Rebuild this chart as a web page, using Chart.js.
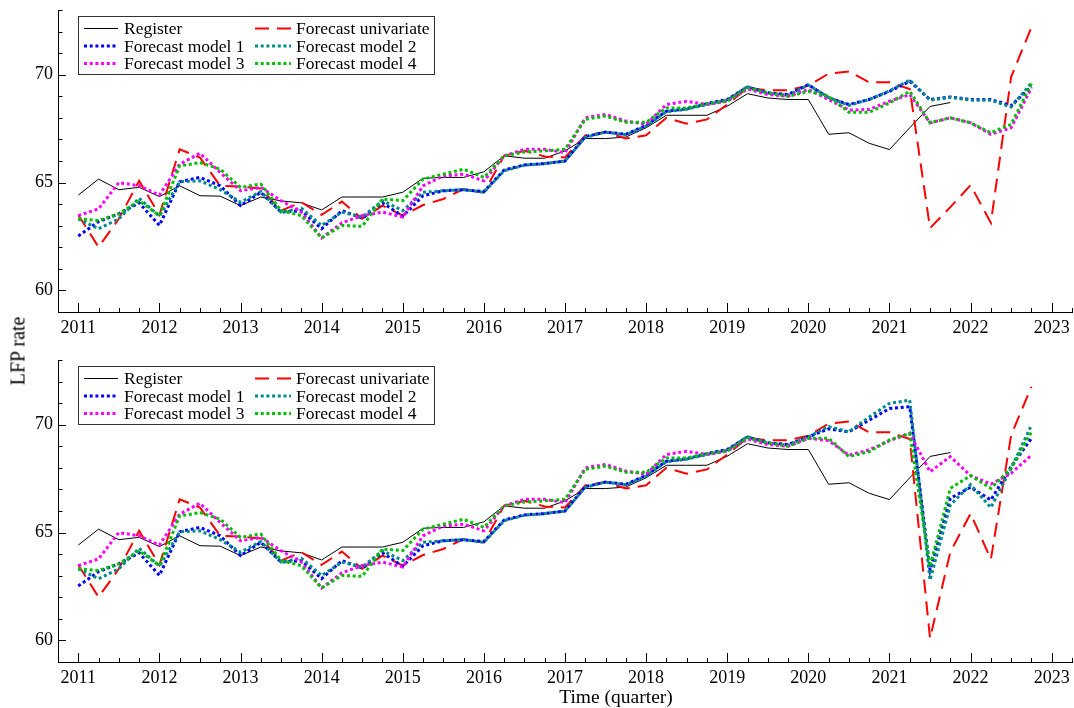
<!DOCTYPE html>
<html><head><meta charset="utf-8">
<script src="https://cdn.jsdelivr.net/npm/chart.js@4.4.1/dist/chart.umd.min.js"></script>
<style>
html,body{margin:0;padding:0;background:#fff;}
#wrap{position:relative;width:1074px;height:708px;overflow:hidden;background:#fff;}
canvas{position:absolute;left:0;}
#c1{top:0}
#c2{top:348px}
#ylab{position:absolute;left:18px;top:351px;transform:translate(-50%,-50%) rotate(-90deg);font:20px "Liberation Serif",serif;white-space:nowrap;color:#000;}
#xlab{position:absolute;left:616px;top:697px;transform:translate(-50%,-50%);font:19.5px "Liberation Serif",serif;white-space:nowrap;color:#000;}
</style></head><body>
<div id="wrap">
<canvas id="c1" width="1074" height="340"></canvas>
<canvas id="c2" width="1074" height="360"></canvas>
<div id="ylab">LFP rate</div>
<div id="xlab">Time (quarter)</div>
</div>
<script>
const quarters = [2011,2011.25,2011.5,2011.75,2012,2012.25,2012.5,2012.75,2013,2013.25,2013.5,2013.75,
  2014,2014.25,2014.5,2014.75,2015,2015.25,2015.5,2015.75,2016,2016.25,2016.5,2016.75,
  2017,2017.25,2017.5,2017.75,2018,2018.25,2018.5,2018.75,2019,2019.25,2019.5,2019.75,
  2020,2020.25,2020.5,2020.75,2021,2021.25,2021.5,2021.75,2022,2022.25,2022.5,2022.75];
const yearTicks = [2011,2012,2013,2014,2015,2016,2017,2018,2019,2020,2021,2022,2023];
const yTicks = [60,65,70];
const seriesNames = ["Register","Forecast univariate","Forecast model 1","Forecast model 2","Forecast model 3","Forecast model 4"];

const register = [64.42,65.16,64.67,64.78, 64.35,64.85,64.39,64.37, 63.93,64.33,64.15,64.06,
  63.73,64.33,64.33,64.33, 64.55,65.2,65.24,65.24, 65.5,66.24,66.13,66.13,
  66.47,67.04,67.04,67.11, 67.54,68.12,68.12,68.12, 68.54,69.12,68.92,68.85,
  68.85,67.24,67.31,66.82, 66.53,67.54,68.53,68.71];

// Top panel
const univariateTop = [63.5,62.01,63.32,65.08, 63.5,66.54,66.16,64.85, 64.81,64.73,63.7,64.09,
  63.5,64.12,63.32,63.93, 63.47,63.96,64.24,64.7, 64.55,66.24,66.47,66.21,
  66.16,67.19,67.34,67.04, 67.19,68.0,67.73,67.93, 68.62,69.39,69.28,69.28,
  69.49,70.05,70.15,69.65, 69.65,69.34,62.89,63.86, 64.88,63.13,69.9,72.2];
const model1Top = [62.52,63.19,63.55,64.06, 63.01,65.04,65.24,64.85, 63.93,64.55,63.63,63.7,
  62.86,63.7,63.35,64.06, 63.44,64.39,64.62,64.67, 64.58,65.58,65.82,65.88,
  66.0,67.13,67.34,67.24, 67.65,68.31,68.42,68.66, 68.85,69.43,69.16,69.08,
  69.54,68.92,68.62,68.85, 69.23,69.69,68.85,68.97, 68.85,68.85,68.57,69.46];
const model2Top = [63.32,62.86,63.32,64.27, 63.44,65.04,65.08,64.67, 64.09,64.58,63.63,63.81,
  63.01,63.63,63.4,64.16, 63.7,64.55,64.62,64.67, 64.55,65.55,65.8,65.88,
  66.0,67.1,67.34,67.22, 67.62,68.28,68.4,68.62, 68.82,69.45,69.14,69.05,
  69.52,68.95,68.58,68.85, 69.25,69.75,68.82,68.95, 68.82,68.82,68.5,69.62];
const model3Top = [63.47,63.78,65.0,64.85, 64.42,65.85,66.36,65.47, 64.62,64.78,64.16,63.63,
  62.43,63.13,63.47,63.63, 63.4,64.85,65.31,65.39, 65.08,66.24,66.54,66.54,
  66.39,68.0,68.16,67.85, 67.7,68.62,68.77,68.62, 68.77,69.34,69.08,69.0,
  69.31,68.85,68.36,68.39, 68.77,69.08,67.77,68.0, 67.77,67.24,67.54,69.39];
const model4Top = [63.32,63.24,63.55,64.16, 63.47,65.77,65.93,65.62, 64.78,64.93,63.7,63.47,
  62.43,63.01,62.97,64.24, 64.16,65.16,65.39,65.62, 65.24,66.24,66.42,66.47,
  66.54,67.93,68.08,67.8, 67.8,68.46,68.46,68.66, 68.77,69.39,69.16,69.0,
  69.23,69.0,68.26,68.26, 68.69,69.23,67.77,68.0, 67.77,67.31,67.7,69.59];

// Bottom panel
const univariateBottom = [63.5,62.01,63.32,65.08, 63.5,66.54,66.16,64.85, 64.81,64.73,63.7,64.09,
  63.5,64.12,63.32,63.93, 63.47,63.96,64.24,64.7, 64.55,66.24,66.47,66.21,
  66.16,67.19,67.34,67.04, 67.19,68.0,67.73,67.93, 68.62,69.39,69.28,69.28,
  69.49,70.05,70.15,69.65, 69.65,69.34,60.1,64.1, 65.88,63.76,69.52,71.76];
const model1Bottom = [62.52,63.19,63.55,64.06, 63.01,65.04,65.24,64.85, 63.93,64.55,63.63,63.7,
  62.86,63.7,63.35,64.06, 63.44,64.39,64.62,64.67, 64.58,65.58,65.82,65.88,
  66.0,67.13,67.34,67.24, 67.65,68.31,68.42,68.66, 68.85,69.43,69.16,69.08,
  69.44,69.81,69.67,70.21, 70.75,70.83,63.27,66.59, 67.1,66.51,68.06,69.37];
const model2Bottom = [63.32,62.86,63.32,64.27, 63.44,65.04,65.08,64.67, 64.09,64.58,63.63,63.81,
  63.01,63.63,63.4,64.16, 63.7,64.55,64.62,64.67, 64.55,65.55,65.8,65.88,
  66.0,67.1,67.34,67.22, 67.62,68.28,68.4,68.62, 68.82,69.45,69.14,69.05,
  69.44,69.91,69.67,70.36, 70.99,71.14,62.8,66.28, 67.22,66.16,67.98,69.98];
const model3Bottom = [63.47,63.78,65.0,64.85, 64.42,65.85,66.36,65.47, 64.62,64.78,64.16,63.63,
  62.43,63.13,63.47,63.63, 63.4,64.85,65.31,65.39, 65.08,66.24,66.54,66.54,
  66.39,68.0,68.16,67.85, 67.7,68.62,68.77,68.62, 68.77,69.34,69.08,69.0,
  69.37,69.26,68.59,68.83, 69.26,69.6,67.82,68.52, 67.64,67.25,67.75,68.59];
const model4Bottom = [63.32,63.24,63.55,64.16, 63.47,65.77,65.93,65.62, 64.78,64.93,63.7,63.47,
  62.43,63.01,62.97,64.24, 64.16,65.16,65.39,65.62, 65.24,66.24,66.42,66.47,
  66.54,67.93,68.08,67.8, 67.8,68.46,68.46,68.66, 68.77,69.39,69.16,69.0,
  69.37,69.37,68.52,68.75, 69.29,69.6,63.42,67.05, 67.64,67.05,67.98,69.66];

const FONT = '"Liberation Serif", "Times New Roman", serif';
Chart.defaults.font.family = FONT;
Chart.defaults.color = '#000';

const styles = [
  {borderColor:'#000000', borderWidth:1, borderDash:[]},
  {borderColor:'#ff0000', borderWidth:2, borderDash:[14,8]},
  {borderColor:'#0000ff', borderWidth:3, borderDash:[3,2.7]},
  {borderColor:'#008b8b', borderWidth:3, borderDash:[3,2.7]},
  {borderColor:'#ff00ff', borderWidth:3, borderDash:[3,2.7]},
  {borderColor:'#00c000', borderWidth:3, borderDash:[3,2.7]}
];

function makeDatasets(series){
  return series.map((arr,i)=>Object.assign({
    label: seriesNames[i],
    data: arr.map((v,j)=>({x:quarters[j], y:v})),
    pointRadius:0, tension:0, fill:false,
    borderCapStyle:'butt', borderJoinStyle:'miter',
    order: series.length - i
  }, styles[i]));
}

const boxLegend = {
  id:'boxLegend',
  afterDraw(chart){
    const ctx = chart.ctx, a = chart.chartArea;
    const bx = Math.round(a.left + 20), by = Math.round(a.top + 6), bw = 356, bh = 58;
    ctx.save();
    ctx.fillStyle = '#fff'; ctx.fillRect(bx, by, bw, bh);
    ctx.strokeStyle = '#333'; ctx.lineWidth = 1; ctx.setLineDash([]);
    ctx.strokeRect(bx + 0.5, by + 0.5, bw, bh);
    ctx.font = '17.5px ' + FONT; ctx.textBaseline = 'middle'; ctx.textAlign = 'left'; ctx.fillStyle = '#000';
    chart.data.datasets.forEach((ds, i) => {
      const col = i % 2, row = Math.floor(i / 2);
      const x0 = bx + (col ? 177 : 6), x1 = bx + (col ? 213 : 40), tx = bx + (col ? 218 : 46);
      const y = by + 12.5 + row * 17.5;
      ctx.save();
      ctx.strokeStyle = ds.borderColor; ctx.lineWidth = ds.borderWidth; ctx.lineCap = 'butt';
      ctx.setLineDash(ds.borderDash || []);
      ctx.beginPath(); ctx.moveTo(x0, y); ctx.lineTo(x1, y); ctx.stroke();
      ctx.restore();
      ctx.fillText(ds.label, tx, y + 1);
    });
    ctx.restore();
  }
};

const innerTicks = {
  id:'innerTicks',
  afterDraw(chart){
    const ctx = chart.ctx, xs = chart.scales.x, ys = chart.scales.y, a = chart.chartArea;
    ctx.save(); ctx.strokeStyle = '#000'; ctx.lineWidth = 1; ctx.setLineDash([]);
    ctx.beginPath();
    for (let k = 0; xs.min + k * 0.25 <= xs.max + 1e-9; k++) {
      const v = xs.min + k * 0.25;
      const px = Math.round(xs.getPixelForValue(v)) + 0.5;
      const major = Math.abs(v - Math.round(v)) < 1e-6;
      ctx.moveTo(px, a.bottom); ctx.lineTo(px, a.bottom - (major ? 9 : 4));
    }
    for (let v = ys.min; v <= ys.max + 1e-9; v += 1) {
      const py = Math.round(ys.getPixelForValue(v)) + 0.5;
      const major = (Math.round(v) % 5) === 0;
      ctx.moveTo(a.left, py); ctx.lineTo(a.left + (major ? 8 : 4.5), py);
    }
    ctx.stroke(); ctx.restore();
  }
};

function makeChart(id, series, padTop, xHeight){
  return new Chart(document.getElementById(id), {
    type:'line',
    data:{ datasets: makeDatasets(series) },
    options:{
      responsive:false, animation:false, devicePixelRatio:1,
      layout:{ padding:{ left:0, right:2, top:padTop, bottom:0 } },
      plugins:{ legend:{display:false}, tooltip:{enabled:false} },
      scales:{
        x:{
          type:'linear', min:2010.75, max:2023.25,
          afterBuildTicks: s => { s.ticks = yearTicks.map(v => ({value:v})); },
          afterFit: s => { s.height = xHeight; s.paddingLeft = 0; s.paddingRight = 0; },
          grid:{ display:true, drawOnChartArea:false, drawTicks:false, color:'rgba(0,0,0,0)' },
          border:{ display:true, color:'#000', width:1 },
          ticks:{ autoSkip:false, maxRotation:0, padding:5, color:'#000',
                  font:{ size:18, family:FONT }, callback: v => String(v) }
        },
        y:{
          type:'linear', min:59, max:73,
          afterBuildTicks: s => { s.ticks = yTicks.map(v => ({value:v})); },
          afterFit: s => { s.width = 58; s.paddingTop = 0; s.paddingBottom = 0; },
          grid:{ display:true, drawOnChartArea:false, drawTicks:false, color:'rgba(0,0,0,0)' },
          border:{ display:true, color:'#000', width:1 },
          ticks:{ padding:5, color:'#000', font:{ size:18, family:FONT }, callback: v => String(v) }
        }
      }
    },
    plugins:[innerTicks, boxLegend]
  });
}

makeChart('c1', [register, univariateTop, model1Top, model2Top, model3Top, model4Top], 10, 28);
makeChart('c2', [register, univariateBottom, model1Bottom, model2Bottom, model3Bottom, model4Bottom], 12, 46);
</script>
</body></html>
